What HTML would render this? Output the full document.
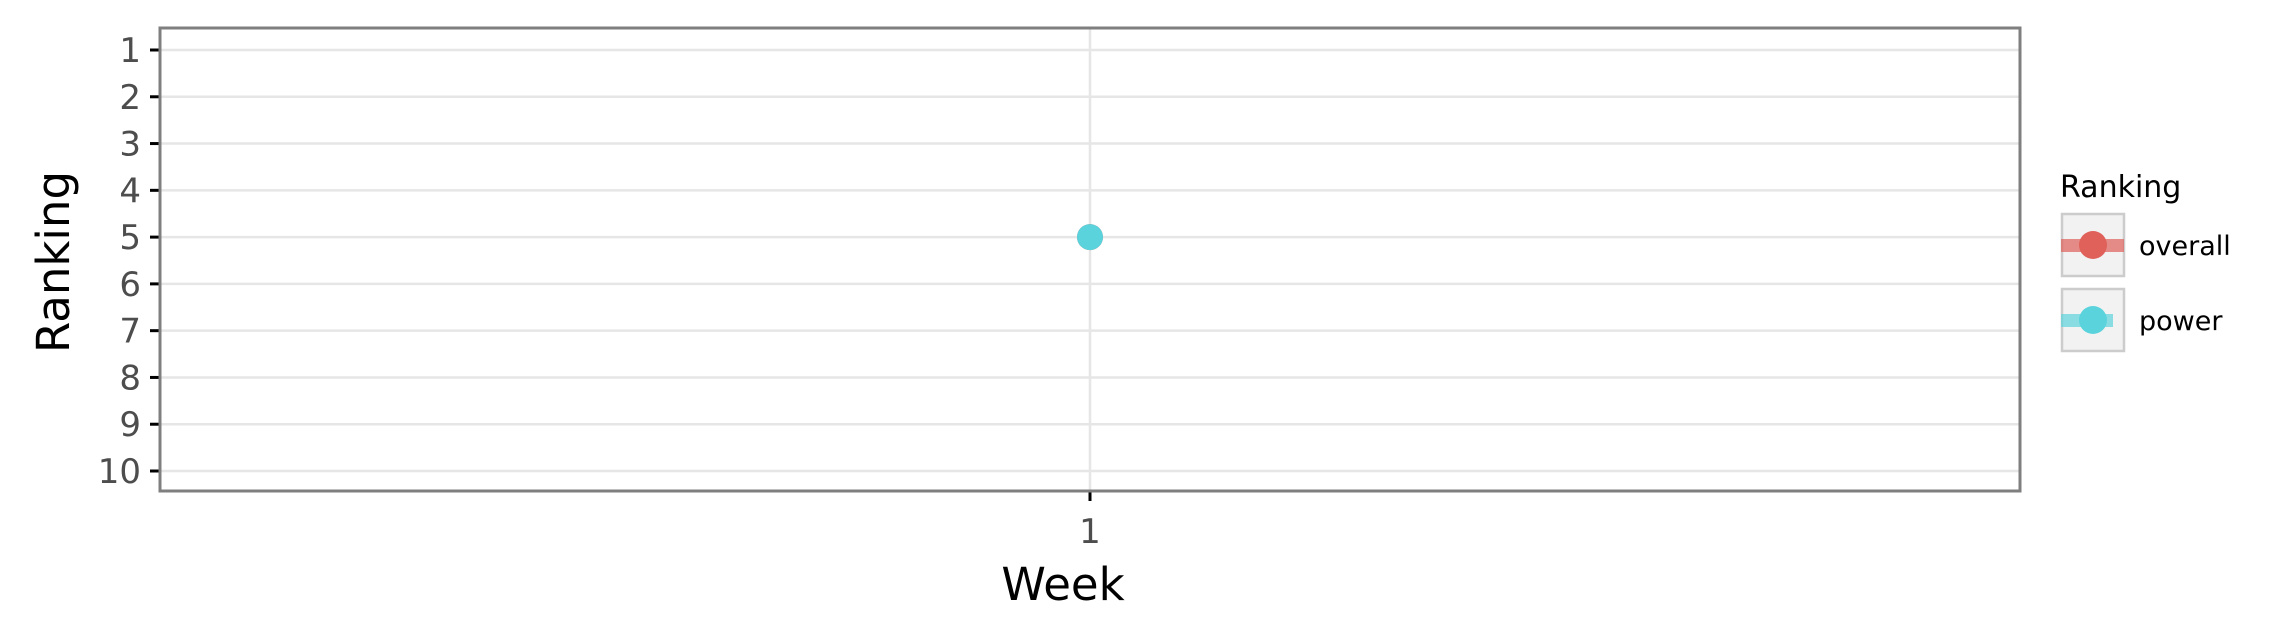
<!DOCTYPE html>
<html><head><meta charset="utf-8"><style>
html,body{margin:0;padding:0;background:#fff;width:2276px;height:641px;overflow:hidden}
text{font-family:"DejaVu Sans","Liberation Sans",sans-serif}
</style></head><body>
<svg id="chart" width="2276" height="641" xmlns="http://www.w3.org/2000/svg"></svg>
<script>
const weeks = [1];
const overallRank = [5];
const powerRank = [5];
const yTicks = [1,2,3,4,5,6,7,8,9,10];
const xTicks = [1];

const NS = "http://www.w3.org/2000/svg";
const svg = document.getElementById('chart');
const L = 160, R = 2020, T = 28, B = 491;
function ys(v){ return 50 + (v - 1) * (471 - 50) / 9; }
function xs(v){ return 1090 + (v - 1) * 200; }
function mk(tag, attrs, parent){
  const e = document.createElementNS(NS, tag);
  for (const k in attrs) e.setAttribute(k, attrs[k]);
  (parent || svg).appendChild(e);
  return e;
}
yTicks.forEach(t => {
  const g = mk('line', {x1:L, x2:R, y1:ys(t), y2:ys(t), stroke:'#e6e6e6', 'stroke-width':2.5});
  
  
  const tk = mk('line', {x1:150, x2:L, y1:ys(t), y2:ys(t), stroke:'#000', 'stroke-width':3});
  
  
  const lb = mk('text', {x:141, y:ys(t) + 12, 'text-anchor':'end', 'font-size':34, fill:'#4d4d4d'});
  lb.textContent = t;
  
  
});
xTicks.forEach(t => {
  const g = mk('line', {x1:xs(t), x2:xs(t), y1:T, y2:B, stroke:'#e6e6e6', 'stroke-width':2.5});
  
  
  const tk = mk('line', {x1:xs(t), x2:xs(t), y1:B, y2:B + 10, stroke:'#000', 'stroke-width':3});
  
  
  const lb = mk('text', {x:xs(t), y:543, 'text-anchor':'middle', 'font-size':34, fill:'#4d4d4d'});
  lb.textContent = t;
  
  
});
const frame = mk('rect', {x:L, y:T, width:R - L, height:B - T, fill:'none', stroke:'#7f7f7f', 'stroke-width':3});


weeks.forEach((w, i) => {
  const c = mk('circle', {cx:xs(w), cy:ys(overallRank[i]), r:13, fill:'#e0605a'});
  
  
});
weeks.forEach((w, i) => {
  const c = mk('circle', {cx:xs(w), cy:ys(powerRank[i]), r:13, fill:'#5bd3dc'});
  
  
});
const xt = mk('text', {x:1063, y:600, 'text-anchor':'middle', 'font-size':45, fill:'#000'});
xt.textContent = 'Week';


const yt = mk('text', {x:0, y:0, 'text-anchor':'middle', 'font-size':45, fill:'#000', transform:'translate(69,262) rotate(-90)'});
yt.textContent = 'Ranking';


const lt = mk('text', {x:2060, y:197, 'font-size':30, fill:'#000'});
lt.textContent = 'Ranking';


const leg = [['overall', '#e0605a', 214, 2124], ['power', '#5bd3dc', 289, 2113]];
leg.forEach(([name, col, y, lineEnd]) => {
  const g = mk('g', {});
  
  
  mk('rect', {x:2062, y:y, width:62, height:62, fill:'#f2f2f2', stroke:'#cccccc', 'stroke-width':2.5}, g);
  mk('rect', {x:2061, y:y + 25, width:lineEnd - 2061, height:13, fill:col, opacity:0.7}, g);
  mk('circle', {cx:2093, cy:y + 31, r:14, fill:col}, g);
  const t = mk('text', {x:2139, y:y + 41, 'font-size':27, fill:'#000'}, g);
  t.textContent = name;
});
</script>
</body></html>
